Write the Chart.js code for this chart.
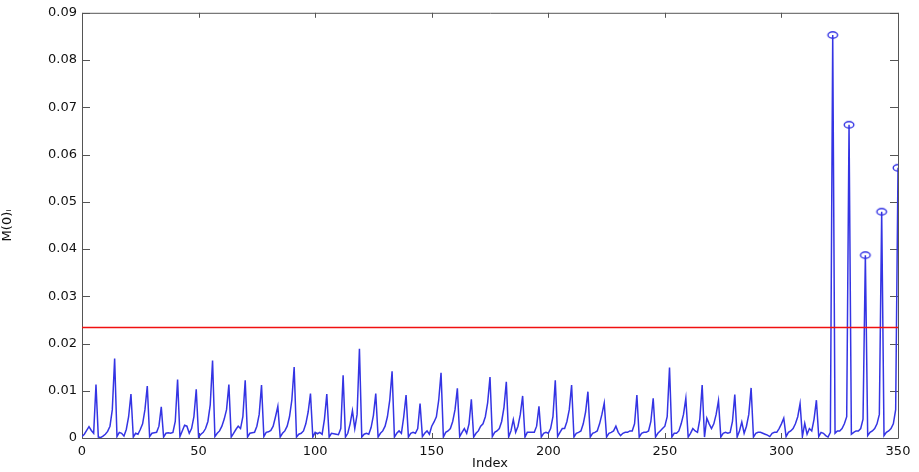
<!DOCTYPE html>
<html>
<head>
<meta charset="utf-8">
<script src="https://cdn.jsdelivr.net/npm/chart.js@4.4.1/dist/chart.umd.min.js"></script>
<style>
  html, body { margin: 0; padding: 0; background: #fff; }
  #wrap { width: 919px; height: 472px; }
</style>
</head>
<body>
<div id="wrap"><canvas id="chart" width="919" height="472"></canvas></div>
<script>
// M(0)_i for every index 0..350
const mValues = [
  0.0003, 0.0008, 0.0016, 0.0024, 0.0016, 0.0010, 0.0113, 0.0002, 0.0001, 0.0004,
  0.0008, 0.0014, 0.0025, 0.0060, 0.0168, 0.0003, 0.0012, 0.0010, 0.0004, 0.0018,
  0.0045, 0.0093, 0.0002, 0.0010, 0.0008, 0.0018, 0.0030, 0.0060, 0.0110, 0.0003,
  0.0010, 0.0011, 0.0012, 0.0025, 0.0066, 0.0002, 0.0010, 0.0011, 0.0010, 0.0012,
  0.0035, 0.0124, 0.0003, 0.0015, 0.0027, 0.0025, 0.0010, 0.0020, 0.0045, 0.0103,
  0.0002, 0.0008, 0.0012, 0.0020, 0.0035, 0.0070, 0.0164, 0.0003, 0.0010, 0.0015,
  0.0025, 0.0040, 0.0060, 0.0113, 0.0002, 0.0010, 0.0018, 0.0025, 0.0020, 0.0045,
  0.0122, 0.0002, 0.0010, 0.0011, 0.0012, 0.0025, 0.0050, 0.0112, 0.0003, 0.0012,
  0.0013, 0.0016, 0.0025, 0.0045, 0.0067, 0.0002, 0.0010, 0.0015, 0.0025, 0.0045,
  0.0080, 0.0150, 0.0002, 0.0008, 0.0010, 0.0015, 0.0030, 0.0055, 0.0094, 0.0002,
  0.0012, 0.0009, 0.0012, 0.0008, 0.0040, 0.0093, 0.0002, 0.0010, 0.0009, 0.0008,
  0.0007, 0.0020, 0.0133, 0.0002, 0.0010, 0.0030, 0.0058, 0.0020, 0.0050, 0.0189,
  0.0002, 0.0008, 0.0010, 0.0008, 0.0022, 0.0048, 0.0094, 0.0002, 0.0010, 0.0015,
  0.0025, 0.0045, 0.0080, 0.0141, 0.0002, 0.0010, 0.0015, 0.0010, 0.0045, 0.0091,
  0.0002, 0.0010, 0.0012, 0.0010, 0.0020, 0.0073, 0.0003, 0.0010, 0.0015, 0.0008,
  0.0025, 0.0034, 0.0045, 0.0080, 0.0138, 0.0002, 0.0012, 0.0015, 0.0020, 0.0035,
  0.0060, 0.0105, 0.0003, 0.0012, 0.0020, 0.0010, 0.0030, 0.0082, 0.0002, 0.0010,
  0.0015, 0.0025, 0.0030, 0.0045, 0.0075, 0.0129, 0.0003, 0.0012, 0.0015, 0.0020,
  0.0035, 0.0065, 0.0119, 0.0002, 0.0015, 0.0039, 0.0012, 0.0025, 0.0050, 0.0089,
  0.0002, 0.0012, 0.0012, 0.0012, 0.0012, 0.0025, 0.0067, 0.0002, 0.0010, 0.0012,
  0.0010, 0.0020, 0.0045, 0.0122, 0.0003, 0.0012, 0.0020, 0.0020, 0.0035, 0.0060,
  0.0112, 0.0002, 0.0010, 0.0012, 0.0015, 0.0030, 0.0055, 0.0098, 0.0002, 0.0010,
  0.0012, 0.0015, 0.0030, 0.0050, 0.0074, 0.0002, 0.0010, 0.0012, 0.0015, 0.0025,
  0.0012, 0.0005, 0.0010, 0.0012, 0.0012, 0.0015, 0.0015, 0.0030, 0.0091, 0.0002,
  0.0010, 0.0012, 0.0012, 0.0015, 0.0035, 0.0084, 0.0002, 0.0010, 0.0015, 0.0020,
  0.0025, 0.0045, 0.0149, 0.0002, 0.0010, 0.0010, 0.0015, 0.0030, 0.0050, 0.0084,
  0.0002, 0.0010, 0.0020, 0.0015, 0.0012, 0.0040, 0.0112, 0.0002, 0.0042, 0.0030,
  0.0020, 0.0030, 0.0050, 0.0079, 0.0002, 0.0010, 0.0012, 0.0010, 0.0012, 0.0035,
  0.0092, 0.0002, 0.0015, 0.0034, 0.0010, 0.0025, 0.0050, 0.0106, 0.0002, 0.0010,
  0.0012, 0.0012, 0.0010, 0.0008, 0.0006, 0.0003, 0.0010, 0.0012, 0.0012, 0.0020,
  0.0030, 0.0042, 0.0003, 0.0012, 0.0015, 0.0020, 0.0030, 0.0045, 0.0073, 0.0003,
  0.0031, 0.0008, 0.0020, 0.0015, 0.0040, 0.0080, 0.0003, 0.0012, 0.0010, 0.0005,
  0.0002, 0.0012, 0.0853, 0.0010, 0.0015, 0.0015, 0.0020, 0.0030, 0.0045, 0.0663,
  0.0008, 0.0012, 0.0015, 0.0015, 0.0020, 0.0040, 0.0387, 0.0005, 0.0012, 0.0015,
  0.0020, 0.0030, 0.0050, 0.0479, 0.0005, 0.0012, 0.0015, 0.0020, 0.0030, 0.0060,
  0.0572
];

// indices flagged above the threshold
const peakIdx = [322, 329, 336, 343, 350];
const threshold = 0.0234;

const xTicks = [0, 50, 100, 150, 200, 250, 300, 350];
const yTicks = [0, 0.01, 0.02, 0.03, 0.04, 0.05, 0.06, 0.07, 0.08, 0.09];

const BLUE = '#3434e4';
const AXIS = '#555555';
const FONT = { family: 'DejaVu Sans', size: 13 };

// small open ellipse used as the peak marker
const ring = document.createElement('canvas');
ring.width = 14;
ring.height = 10;
const rc = ring.getContext('2d');
rc.strokeStyle = BLUE;
rc.lineWidth = 1.4;
rc.beginPath();
rc.ellipse(7, 5, 4.8, 3.2, 0, 0, Math.PI * 2);
rc.stroke();

// box around the plot with inward ticks on all four sides
const boxTicks = {
  id: 'boxTicks',
  beforeDatasetsDraw(chart) {
    const { ctx, chartArea: a, scales: { x, y } } = chart;
    ctx.save();
    ctx.strokeStyle = AXIS;
    ctx.lineWidth = 1;
    ctx.beginPath();
    ctx.rect(a.left + 0.5, a.top + 0.5, a.right - a.left, a.bottom - a.top);
    xTicks.forEach(v => {
      const px = Math.round(x.getPixelForValue(v)) + 0.5;
      ctx.moveTo(px, a.bottom); ctx.lineTo(px, a.bottom - 5);
      ctx.moveTo(px, a.top); ctx.lineTo(px, a.top + 5);
    });
    yTicks.forEach(v => {
      const py = Math.round(y.getPixelForValue(v)) + 0.5;
      ctx.moveTo(a.left, py); ctx.lineTo(a.left + 8, py);
      ctx.moveTo(a.right, py); ctx.lineTo(a.right - 8, py);
    });
    ctx.stroke();
    ctx.restore();
  }
};

new Chart(document.getElementById('chart'), {
  type: 'line',
  data: {
    datasets: [
      {
        data: mValues.map((v, i) => ({ x: i, y: v })),
        borderColor: BLUE,
        borderWidth: 1.5,
        pointRadius: 0,
        tension: 0,
        order: 2
      },
      {
        data: peakIdx.map(i => ({ x: i, y: mValues[i] })),
        showLine: false,
        pointStyle: ring,
        pointRadius: 5,
        order: 1
      },
      {
        data: [{ x: 0, y: threshold }, { x: 350, y: threshold }],
        borderColor: '#f01010',
        borderWidth: 1.4,
        pointRadius: 0,
        order: 0
      }
    ]
  },
  options: {
    responsive: false,
    animation: false,
    events: [],
    layout: { padding: { top: 11, right: 21, left: 0, bottom: 0 } },
    plugins: { legend: { display: false }, tooltip: { enabled: false } },
    scales: {
      x: {
        type: 'linear',
        min: 0,
        max: 350,
        afterBuildTicks: s => { s.ticks = xTicks.map(v => ({ value: v })); },
        afterFit: s => { s.height = 34; },
        grid: { display: false, drawTicks: false },
        border: { display: false },
        ticks: { font: FONT, color: '#111', padding: 6, maxRotation: 0, autoSkip: false },
        title: { display: true, text: 'Index', font: FONT, color: '#111', padding: { top: 0, bottom: 1 } }
      },
      y: {
        min: 0,
        max: 0.09,
        afterBuildTicks: s => { s.ticks = yTicks.map(v => ({ value: v })); },
        afterFit: s => { s.width = 82; },
        grid: { display: false, drawTicks: false },
        border: { display: false },
        ticks: {
          font: FONT,
          color: '#111',
          padding: 5,
          callback: v => (v === 0 ? '0' : v.toFixed(2))
        },
        title: { display: true, text: 'M(0)ᵢ', font: FONT, color: '#111', padding: { top: 0, bottom: 0 } }
      }
    }
  },
  plugins: [boxTicks]
});
</script>
</body>
</html>
